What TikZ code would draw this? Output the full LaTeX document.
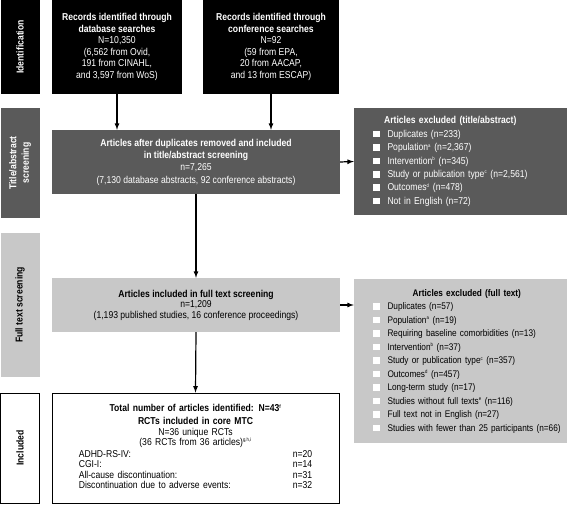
\documentclass[tikz,border=0pt]{standalone}
\usepackage{fontspec}
\setmainfont[FakeStretch=0.86]{Liberation Sans}
\usepackage{tikz}
\usetikzlibrary{arrows}
\definecolor{tiabgrau}{RGB}{90,90,90}
\definecolor{ftgrau}{RGB}{200,200,200}
\newcommand{\wq}{\textcolor{white}{\rule{6.5pt}{6.5pt}}\hspace{8pt}}
\newcommand{\hoch}[1]{\textsuperscript{\fontsize{5}{5}\selectfont #1}}

\begin{document}
\begin{tikzpicture}[x=1pt, y=-1pt,
			>=latex,   %Pfeilspitzen
			font=\fontsize{10}{11.5}\selectfont,
			seite/.style={minimum width=#1, minimum height=39pt, inner sep=0pt, rotate=90, align=center, font=\fontsize{10}{12.5}\selectfont\bfseries},
			kasten/.style={minimum height=#1, inner sep=0pt, align=center},
			ausschluss/.style={minimum width=213pt, minimum height=#1, inner xsep=19pt, inner ysep=0pt, text width=175pt, align=left, fill=tiabgrau, text=white},
			pfeil/.style={->, line width=1.2pt}]
			\useasboundingbox (0,0) rectangle (568,505);
			% Phasen links
			\node[seite=94pt, fill=black, text=white] (ident) at (20,47) {Identification};
			\node[seite=110pt, fill=tiabgrau, text=white] (tiabseite) at (20,163) {Title/abstract\\screening};
			\node[seite=144pt, fill=ftgrau] (ftseite) at (20,305) {Full text screening};
			\node[seite=110pt, draw=black, line width=0.8pt, fill=white] (inclseite) at (20,448) {Included};
			% Kaesten
			\node[kasten=94pt, minimum width=130pt, fill=black, text=white] (db) at (117,47) {\textbf{Records identified through}\\\textbf{database searches}\\N=10,350\\(6,562 from Ovid,\\191 from CINAHL,\\and 3,597 from WoS)};
			\node[kasten=94pt, minimum width=136pt, fill=black, text=white] (konf) at (271,47) {\textbf{Records identified through}\\\textbf{conference searches}\\N=92\\(59 from EPA,\\20 from AACAP,\\and 13 from ESCAP)};
			\node[kasten=64pt, minimum width=288pt, fill=tiabgrau, text=white, font=\fontsize{10}{12.3}\selectfont] (tiab) at (196,162) {\textbf{Articles after duplicates removed and included}\\\textbf{in title/abstract screening}\\n=7,265\\(7,130 database abstracts, 92 conference abstracts)};
			\node[kasten=54pt, minimum width=288pt, fill=ftgrau, font=\fontsize{10}{10.5}\selectfont] (ft) at (196,305) {\textbf{Articles included in full text screening}\\n=1,209\\(1,193 published studies, 16 conference proceedings)};
			\node[kasten=110pt, minimum width=287pt, inner xsep=21pt, text width=245pt, draw=black, line width=0.8pt, font=\fontsize{10}{10.2}\selectfont] (incl) at (195.5,448) {\textbf{Total number of articles identified: N=43\hoch{f}}\\[3pt]
				\textbf{RCTs included in core MTC}\\N=36 unique RCTs\\(36 RCTs from 36 articles)\hoch{g,h,i}\\[2pt]
				\begin{tabular}{@{}p{214pt}@{}l@{}}
				ADHD-RS-IV: & n=20\\
				CGI-I: & n=14\\
				All-cause discontinuation: & n=31\\
				Discontinuation due to adverse events: & n=32
				\end{tabular}};
			% Ausschluesse
			\node[ausschluss=107pt, font=\fontsize{10}{13.4}\selectfont] (extiab) at (460.5,161.5) {\begin{tabular}{@{}l@{}}
				\multicolumn{1}{c}{\textbf{Articles excluded (title/abstract)}}\\
				\wq Duplicates (n=233)\\
				\wq Population\hoch{a} (n=2,367)\\
				\wq Intervention\hoch{b} (n=345)\\
				\wq Study or publication type\hoch{c} (n=2,561)\\
				\wq Outcomes\hoch{d} (n=478)\\
				\wq Not in English (n=72)
				\end{tabular}};
			\node[ausschluss=164pt, fill=ftgrau, text=black, font=\fontsize{9.6}{13.5}\selectfont] (exft) at (460.5,361) {\begin{tabular}{@{}l@{}}
				\multicolumn{1}{c}{\textbf{Articles excluded (full text)}}\\
				\wq Duplicates (n=57)\\
				\wq Population\hoch{a} (n=19)\\
				\wq Requiring baseline comorbidities (n=13)\\
				\wq Intervention\hoch{b} (n=37)\\
				\wq Study or publication type\hoch{c} (n=357)\\
				\wq Outcomes\hoch{d} (n=457)\\
				\wq Long-term study (n=17)\\
				\wq Studies without full texts\hoch{e} (n=116)\\
				\wq Full text not in English (n=27)\\
				\wq Studies with fewer than 25 participants (n=66)
				\end{tabular}};
			% Pfeile
			\draw[pfeil] (db.south) -- (db.south |- tiab.north);
			\draw[pfeil] (konf.south) -- (konf.south |- tiab.north);
			\draw[pfeil] (tiab.east) -- (extiab.west);
			\draw[pfeil] (tiab.south) -- (ft.north);
			\draw[pfeil] (ft.east) -- (ft.east -| exft.west);
			\draw[pfeil] (ft.south) -- (incl.north);
		\end{tikzpicture}
\end{document}
